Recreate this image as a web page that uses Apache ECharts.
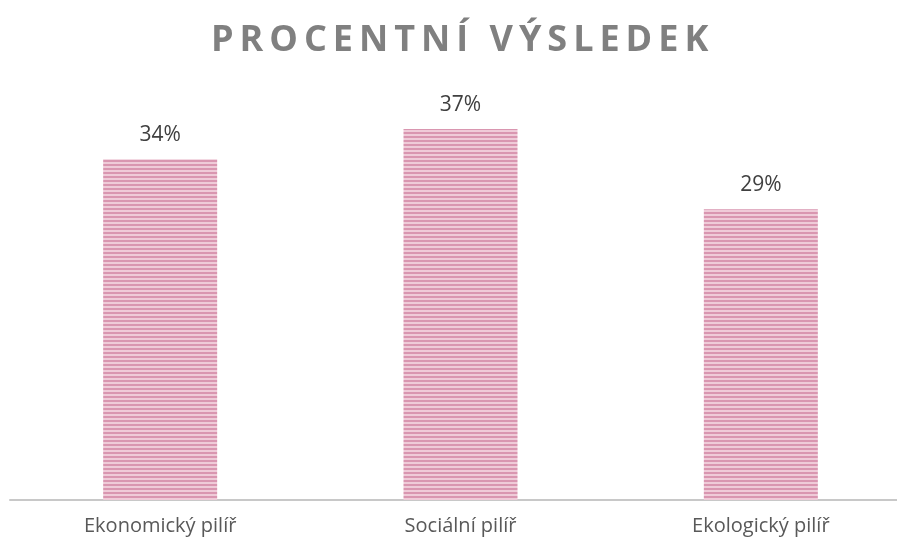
<!DOCTYPE html>
<html>
<head>
<meta charset="utf-8">
<style>
  html, body { margin: 0; padding: 0; background: #fff; }
  #chart { width: 897px; height: 544px; }
</style>
<script src="https://cdn.jsdelivr.net/npm/echarts@6/dist/echarts.min.js"></script>
</head>
<body>
<div id="chart"></div>
<script>
  // data
  var titleText = 'PROCENTNÍ VÝSLEDEK';
  var categories = ['Ekonomický pilíř', 'Sociální pilíř', 'Ekologický pilíř'];
  var values = [34, 37, 29];

  // horizontal stripe fill like the original
  var stripe = document.createElement('canvas');
  stripe.width = 8;
  stripe.height = 4;
  var ctx = stripe.getContext('2d');
  ctx.fillStyle = '#efcbd8';
  ctx.fillRect(0, 0, 8, 4);
  ctx.fillStyle = '#d996b0';
  ctx.fillRect(0, 0, 8, 2);

  // no letterSpacing in zrender -> thin spaces between letters
  var spacedTitle = titleText.split('').join('\u2009');

  var myChart = echarts.init(document.getElementById('chart'));
  myChart.setOption({
    animation: false,
    title: {
      text: spacedTitle,
      left: 206,
      top: 18,
      textStyle: {
        fontFamily: 'Open Sans',
        fontSize: 36,
        fontWeight: 'bold',
        color: '#808080'
      }
    },
    grid: { left: 10, width: 901, top: 99, bottom: 44, outerBoundsMode: 'none' },
    xAxis: {
      type: 'category',
      data: categories,
      axisTick: { show: false },
      axisLine: { lineStyle: { color: '#c8c8c8', width: 2 } },
      axisLabel: {
        margin: 16,
        fontFamily: 'Open Sans',
        fontSize: 20,
        color: '#595959'
      }
    },
    yAxis: {
      type: 'value',
      min: 0,
      max: 40,
      show: false
    },
    series: [{
      type: 'bar',
      data: values,
      barWidth: 114,
      itemStyle: {
        color: { image: stripe, repeat: 'repeat' }
      },
      label: {
        show: true,
        position: 'top',
        distance: 14,
        formatter: '{c}%',
        fontFamily: 'Open Sans',
        fontSize: 21,
        color: '#404040'
      }
    }]
  });
</script>
</body>
</html>
